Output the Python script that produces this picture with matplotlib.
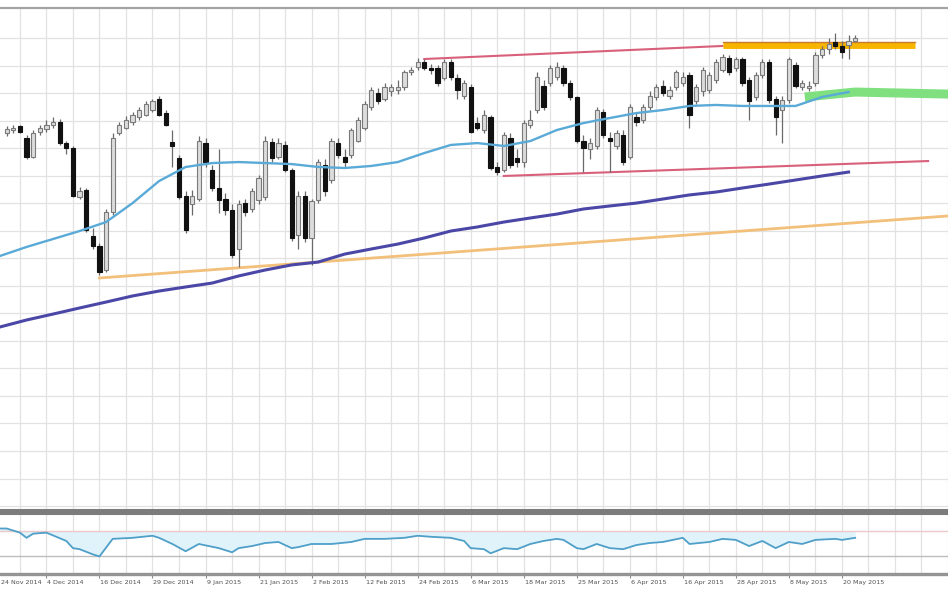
import matplotlib
matplotlib.use("Agg")
import matplotlib.pyplot as plt
import matplotlib.transforms as mtransforms
import numpy as np

# ---------------- data (daily OHLC, index CFD) ----------------
opens = [2068, 2070, 2073, 2065, 2052, 2069, 2071, 2074, 2076, 2061,
         2058, 2024, 2029, 1997, 1990, 1974, 2014, 2068, 2072, 2076,
         2079, 2081, 2084, 2092, 2082, 2062, 2051, 2025, 2019, 2023,
         2061, 2043, 2030, 2023, 2015, 1988, 2020, 2016, 2022, 2024,
         2062, 2052, 2060, 2043, 1998, 2025, 1996, 2022, 2046, 2036,
         2061, 2052, 2053, 2063, 2072, 2086, 2096, 2092, 2097, 2098,
         2100, 2110, 2114, 2117, 2113, 2113, 2106, 2117, 2106, 2094,
         2100, 2075, 2070, 2079, 2045, 2043, 2065, 2051, 2048, 2074,
         2084, 2101, 2103, 2107, 2113, 2103, 2093, 2063, 2057, 2059,
         2083, 2065, 2059, 2067, 2052, 2079, 2077, 2086, 2093, 2101,
         2094, 2100, 2103, 2108, 2090, 2097, 2098, 2105, 2112, 2120,
         2113, 2119, 2105, 2093, 2108, 2117, 2092, 2084, 2091, 2115,
         2100, 2099, 2103, 2122, 2126, 2131, 2128, 2129, 2132]
highs = [2073, 2074, 2074, 2067, 2070, 2074, 2077, 2079, 2078, 2063,
         2059, 2031, 2030, 2003, 1992, 2016, 2068, 2076, 2080, 2083,
         2086, 2090, 2092, 2094, 2084, 2070, 2053, 2028, 2029, 2066,
         2065, 2046, 2057, 2027, 2019, 2022, 2023, 2030, 2039, 2066,
         2065, 2065, 2063, 2044, 2028, 2028, 2023, 2050, 2050, 2065,
         2065, 2057, 2072, 2079, 2090, 2100, 2099, 2103, 2102, 2105,
         2112, 2114, 2120, 2119, 2116, 2115, 2119, 2119, 2109, 2105,
         2102, 2079, 2084, 2081, 2048, 2069, 2068, 2057, 2077, 2084,
         2110, 2105, 2115, 2117, 2115, 2105, 2094, 2067, 2065, 2086,
         2085, 2069, 2070, 2070, 2088, 2083, 2088, 2097, 2102, 2105,
         2101, 2112, 2110, 2110, 2102, 2114, 2110, 2119, 2123, 2122,
         2121, 2121, 2107, 2110, 2119, 2119, 2094, 2094, 2121, 2117,
         2105, 2104, 2124, 2128, 2134, 2137, 2132, 2136, 2136]
lows = [2066, 2068, 2068, 2050, 2051, 2067, 2069, 2072, 2060, 2054,
        2024, 2023, 2000, 1988, 1970, 1972, 2012, 2067, 2071, 2074,
        2077, 2080, 2083, 2080, 2073, 2045, 2023, 1999, 2012, 2021,
        2045, 2028, 2013, 2012, 1982, 1976, 2011, 2014, 2019, 2022,
        2048, 2050, 2041, 1994, 1988, 1993, 1977, 2020, 2025, 2034,
        2051, 2045, 2051, 2062, 2070, 2084, 2088, 2090, 2094, 2095,
        2098, 2108, 2112, 2112, 2109, 2101, 2105, 2105, 2092, 2092,
        2068, 2070, 2068, 2043, 2039, 2041, 2044, 2045, 2045, 2072,
        2082, 2084, 2101, 2105, 2101, 2091, 2061, 2041, 2050, 2057,
        2065, 2041, 2057, 2046, 2050, 2073, 2075, 2084, 2091, 2094,
        2092, 2098, 2101, 2072, 2088, 2094, 2096, 2103, 2110, 2108,
        2111, 2101, 2077, 2091, 2106, 2089, 2067, 2061, 2089, 2099,
        2098, 2097, 2101, 2120, 2123, 2126, 2120, 2119, 2131]
closes = [2071, 2072, 2069, 2052, 2068, 2072, 2074, 2076, 2061, 2058,
          2025, 2028, 2001, 1990, 1972, 2014, 2065, 2074, 2077, 2081,
          2084, 2088, 2090, 2081, 2074, 2059, 2024, 2001, 2025, 2063,
          2048, 2030, 2022, 2015, 1984, 2019, 2014, 2028, 2037, 2063,
          2051, 2061, 2043, 1996, 2025, 1996, 2021, 2048, 2028, 2063,
          2053, 2048, 2070, 2077, 2088, 2098, 2090, 2100, 2100, 2100,
          2110, 2112, 2117, 2113, 2112, 2103, 2117, 2107, 2098, 2103,
          2069, 2072, 2081, 2044, 2041, 2067, 2046, 2048, 2075, 2077,
          2107, 2086, 2113, 2114, 2103, 2093, 2063, 2058, 2061, 2084,
          2067, 2063, 2068, 2048, 2086, 2076, 2086, 2094, 2100, 2096,
          2098, 2110, 2107, 2081, 2100, 2112, 2108, 2117, 2121, 2110,
          2119, 2103, 2090, 2108, 2117, 2091, 2079, 2091, 2119, 2101,
          2103, 2101, 2122, 2126, 2130, 2128, 2124, 2132, 2134]

# moving averages read every 4 bars
ma_bars = list(range(-1, 128, 4))
ma_fast = [1983.4, 1989.6, 1995.1, 2000.6, 2006.8, 2019.9, 2035.1, 2044.8, 2047.5, 2048.2,
           2047.5, 2046.8, 2044.8, 2044.1, 2045.5, 2048.2, 2054.4, 2060.0, 2061.3, 2059.3,
           2062.7, 2070.3, 2075.1, 2078.6, 2082.0, 2084.1, 2086.9, 2087.6, 2086.9, 2086.9,
           2086.9, 2093.1, 2096.5]
ma_slow = [1934.4, 1939.2, 1943.3, 1947.5, 1951.6, 1955.8, 1959.2, 1962.0, 1964.7, 1969.6,
           1973.7, 1977.2, 1979.2, 1984.7, 1988.2, 1991.6, 1995.8, 2000.6, 2003.4, 2006.8,
           2009.6, 2012.3, 2015.8, 2017.9, 2019.9, 2022.7, 2025.5, 2027.5, 2030.3, 2033.0,
           2035.8, 2038.6, 2041.3]

# drawn lines (anchor bar, price)
support_bars, support_prices = [14, 142], [1968.2, 2011.0]
chan_low_bars, chan_low_prices = [75, 139], [2038.6, 2048.9]
chan_up_bars, chan_up_prices = [63, 108], [2119.3, 2128.3]
resist_bars, resist_prices = [108, 137], [2129.0, 2129.0]
zone_bars, zone_prices = [120.4, 128, 142], [2093.1, 2096.5, 2095.1]

# oscillator
rsi_bars = [-1, 0, 2, 3, 4, 6, 9, 10, 11, 13, 14, 16, 19, 22, 23, 25, 27, 29, 32, 34,
            35, 37, 39, 41, 43, 44, 46, 49, 52, 54, 57, 60, 62, 64, 67, 69, 70, 72, 73, 75,
            77, 79, 81, 83, 84, 86, 87, 89, 91, 93, 95, 97, 99, 102, 103, 106, 108, 110, 112, 114,
            116, 118, 120, 122, 125, 126, 128]
rsi_vals = [74.6, 74.6, 67.8, 59.3, 66.1, 67.8, 54.2, 42.4, 40.7, 32.2, 28.8, 57.6, 59.3, 62.7, 59.3,
            49.2, 37.3, 49.2, 42.4, 35.6, 42.4, 45.8, 50.8, 52.5, 42.4, 44.1, 49.2, 49.2, 52.5, 57.6,
            57.6, 59.3, 62.7, 61.0, 59.3, 54.2, 42.4, 40.7, 33.9, 42.4, 40.7, 49.2, 54.2, 57.6, 55.9,
            42.4, 40.7, 49.2, 42.4, 40.7, 47.5, 50.8, 52.5, 59.3, 49.2, 52.5, 57.6, 55.9, 45.8, 54.2,
            42.4, 52.5, 49.2, 55.9, 57.6, 55.9, 59.3]

tick_bars = [6, 14, 22, 30, 38, 46, 54, 62, 70, 78, 86, 94, 102, 110, 118, 126]
tick_labels = ["4 Dec 2014", "16 Dec 2014", "29 Dec 2014", "9 Jan 2015", "21 Jan 2015",
               "2 Feb 2015", "12 Feb 2015", "24 Feb 2015", "6 Mar 2015", "18 Mar 2015",
               "25 Mar 2015", "6 Apr 2015", "16 Apr 2015", "28 Apr 2015", "8 May 2015",
               "20 May 2015"]
first_label = "24 Nov 2014"

# ---------------- figure ----------------
W, H = 948, 593
fig = plt.figure(figsize=(W / 100, H / 100), dpi=100)
fig.patch.set_facecolor("white")
ax = fig.add_axes([0, 1 - 510 / H, 1, 502 / H])
ax2 = fig.add_axes([0, 1 - 574 / H, 1, 61 / H], sharex=ax)

ax.set_xlim(-1, 142)
ax.set_ylim(1808.1, 2154.5)
ax2.set_ylim(0, 100)

grid_col = "#e2e2e2"
for gx in np.arange(-2, 143, 4):
    ax.axvline(gx, color=grid_col, lw=0.9, zorder=0)
    ax2.axvline(gx, color=grid_col, lw=0.9, zorder=0)
for gy in np.arange(2133.8, 1800, -19.0):
    ax.axhline(gy, color=grid_col, lw=0.9, zorder=0)

# candles
o = np.array(opens, float); h = np.array(highs, float)
l = np.array(lows, float); c = np.array(closes, float)
x = np.arange(len(o))
up = c >= o
ax.vlines(x, l, h, color="#6a6a6a", lw=0.9, zorder=3)
body_lo = np.minimum(o, c)
body_h = np.maximum(np.abs(c - o), 0.8)
ax.bar(x[up], body_h[up], bottom=body_lo[up], width=0.64, color="#dcdcdc",
       edgecolor="#7a7a7a", linewidth=0.8, zorder=4)
ax.bar(x[~up], body_h[~up], bottom=body_lo[~up], width=0.64, color="#111111",
       edgecolor="#111111", linewidth=0.8, zorder=4)

# moving averages
ax.plot(ma_bars, ma_fast, color="#5aaad8", lw=1.7, zorder=5)
ax.plot(ma_bars, ma_slow, color="#4b47a6", lw=2.2, zorder=5)

# drawn lines
ax.plot(support_bars, support_prices, color="#f2c07a", lw=2.0, zorder=2)
ax.plot(chan_low_bars, chan_low_prices, color="#d9607a", lw=1.5, zorder=2)
ax.plot(chan_up_bars, chan_up_prices, color="#d9607a", lw=1.5, zorder=2)
ax.plot(resist_bars, resist_prices, color="#f7b500", lw=5.0, zorder=2, solid_capstyle="butt")
ax.plot(resist_bars, np.array(resist_prices) + 2.2, color="#c87a30", lw=1.0, zorder=2)
ax.plot(zone_bars, zone_prices, color="#80e080", lw=6.5, zorder=2, solid_capstyle="butt")

# oscillator
ax2.fill_between(rsi_bars, rsi_vals, 70, color="#e0f3fb", zorder=1, lw=0)
ax2.axhline(70, color="#ecc8c8", lw=1.0, zorder=2)
ax2.axhline(30, color="#bdbdbd", lw=1.0, zorder=2)
ax2.plot(rsi_bars, rsi_vals, color="#4f9fc8", lw=1.3, zorder=3)

# spines & ticks
for s in ["left", "right"]:
    ax.spines[s].set_visible(False)
    ax2.spines[s].set_visible(False)
ax.spines["top"].set_color("#a4a4a4"); ax.spines["top"].set_linewidth(1.6)
ax.spines["bottom"].set_color("#7c7c7c"); ax.spines["bottom"].set_linewidth(2.2)
ax2.spines["top"].set_color("#7c7c7c"); ax2.spines["top"].set_linewidth(2.2)
ax2.spines["bottom"].set_color("#949494"); ax2.spines["bottom"].set_linewidth(2.4)
ax.tick_params(axis="both", which="both", length=0, labelbottom=False, labelleft=False)
ax2.tick_params(axis="y", length=0, labelleft=False)
ax2.set_yticks([])
ax.set_yticks([])

ax2.set_xticks(tick_bars)
ax2.set_xticklabels(tick_labels, ha="left", fontsize=4.6, color="#505050")
ax2.tick_params(axis="x", direction="out", length=3, width=0.8, color="#8a8a8a", pad=1.5)
for lab in ax2.get_xticklabels():
    lab.set_transform(lab.get_transform() + mtransforms.ScaledTranslation(1 / 100, 0, fig.dpi_scale_trans))

# first (partly scrolled-off) date label, kept fully inside the figure
fig.canvas.draw()
ref = ax2.get_xticklabels()[0]
bb = ref.get_window_extent()
ycen = (bb.y0 + bb.y1) / 2 / fig.bbox.height
fig.text(1 / W, ycen, first_label, ha="left", va="center", fontsize=4.6, color="#505050")

fig.savefig("out.png", dpi=100, facecolor="white")
